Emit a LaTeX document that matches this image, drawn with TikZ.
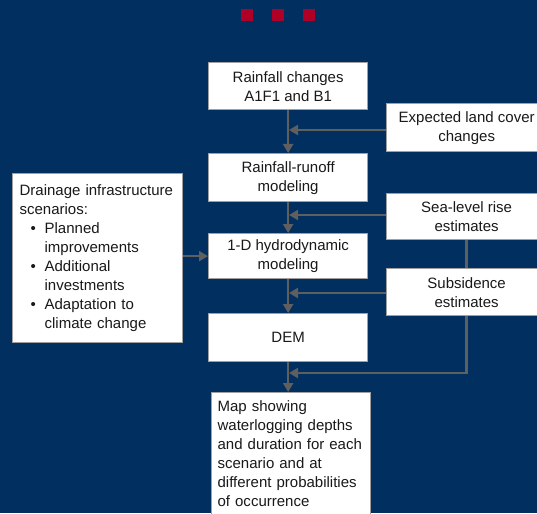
\documentclass[tikz,border=0pt]{standalone}
\usepackage{fontspec}
\setmainfont{Liberation Sans}
\usetikzlibrary{arrows.meta}
\definecolor{bgblue}{RGB}{0,47,96}
\definecolor{dotred}{RGB}{176,0,40}
\definecolor{boxline}{RGB}{160,160,160}
\definecolor{arrgray}{RGB}{95,95,95}
\definecolor{txt}{RGB}{25,25,25}
\tikzset{
  box/.style={draw=boxline, line width=1.3pt, fill=white, text=txt, inner sep=0pt,
    anchor=north west, align=center, font=\fontsize{15}{19}\selectfont},
  arr/.style={draw=arrgray, line width=2.6pt, -{Triangle[length=9pt,width=10pt]}},
  lin/.style={draw=arrgray, line width=2.6pt},
  sq/.style={fill=dotred}
}
\begin{document}
\begin{tikzpicture}[x=1pt,y=-1pt]
\useasboundingbox (0,0) rectangle (537,513);
\fill[bgblue] (0,0) rectangle (537,513);
\clip (0,0) rectangle (537,513);
% red squares
\fill[sq] (241,9) rectangle (253,21);
\fill[sq] (272,9) rectangle (284,21);
\fill[sq] (303,9) rectangle (315,21);
% main column
\node[box, minimum width=159pt, minimum height=47pt] (rc) at (208,62) {Rainfall changes\\A1F1 and B1};
\node[box, minimum width=159pt, minimum height=48pt] (rr) at (208,153) {Rainfall-runoff\\modeling};
\node[box, minimum width=159pt, minimum height=45pt] (hd) at (208,233) {1-D hydrodynamic\\modeling};
\node[box, minimum width=159pt, minimum height=48pt] (dem) at (208,313) {DEM};
\node[box, align=left, text width=147pt, inner xsep=6pt, inner ysep=8pt] (map) at (211,392)
  {Map showing\\waterlogging depths\\and duration for each\\scenario and at\\different probabilities\\of occurrence};
% right column
\node[box, minimum width=160pt, minimum height=48pt] (exp) at (386,103) {Expected land cover\\changes};
\node[box, minimum width=160pt, minimum height=46pt] (sea) at (386,193) {Sea-level rise\\estimates};
\node[box, minimum width=160pt, minimum height=47pt] (subs) at (386,268) {Subsidence\\estimates};
% left box
\node[box, align=left, text width=156pt, inner xsep=7pt, minimum height=169pt] (drain) at (12,173)
  {Drainage infrastructure\\
   scenarios:\\
   \hspace*{11pt}\makebox[14pt][l]{•}Planned\\
   \hspace*{25pt}improvements\\
   \hspace*{11pt}\makebox[14pt][l]{•}Additional\\
   \hspace*{25pt}investments\\
   \hspace*{11pt}\makebox[14pt][l]{•}Adaptation to\\
   \hspace*{25pt}climate change};
% junction coordinates
\coordinate (j1) at (289,130);
\coordinate (j2) at (289,215);
\coordinate (j3) at (289,293);
\coordinate (j4) at (289,373);
% connectors
\draw[arr] (rc.south) -- (rr.north);
\draw[arr] (rr.south) -- (hd.north);
\draw[arr] (hd.south) -- (dem.north);
\draw[arr] (dem.south) -- (dem.south |- map.north);
\draw[arr] (exp.west |- j1) -- (j1);
\draw[arr] (sea.west |- j2) -- (j2);
\draw[arr] (subs.west |- j3) -- (j3);
\draw[arr] (drain.east |- hd.west) -- (hd.west);
\draw[lin] (sea.south) -- (subs.north);
\draw[arr] (subs.south) |- (j4);
\end{tikzpicture}
\end{document}
